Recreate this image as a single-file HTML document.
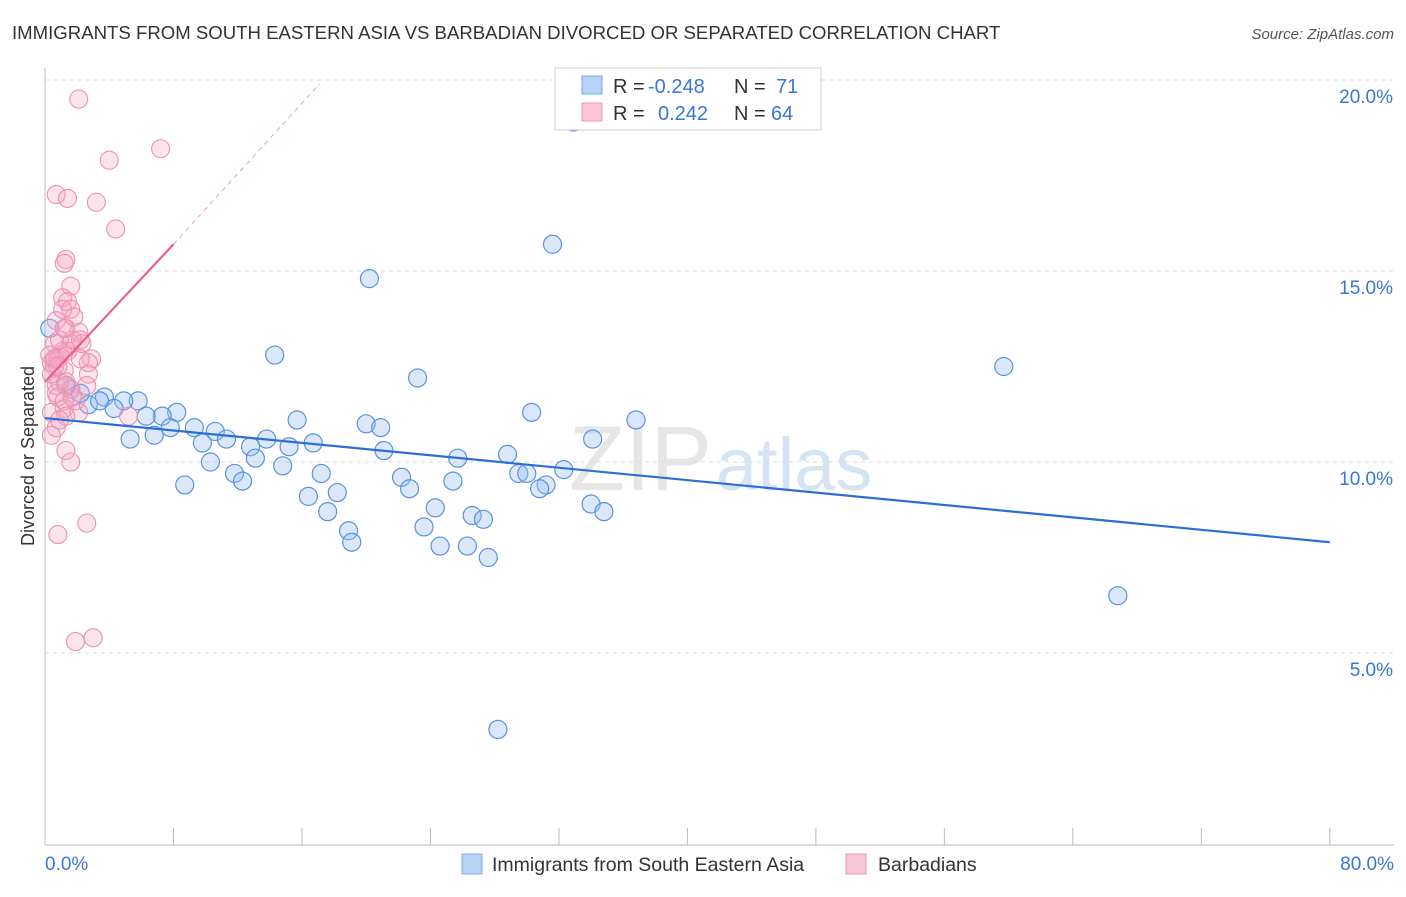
<!DOCTYPE html>
<html><head><meta charset="utf-8"><style>
body{margin:0;background:#fff;font-family:"Liberation Sans",sans-serif;}
svg text{font-family:"Liberation Sans",sans-serif;}
</style></head><body>
<svg id="c" width="1406" height="892">
<text x="12" y="39" font-size="18.6" fill="#333">IMMIGRANTS FROM SOUTH EASTERN ASIA VS BARBADIAN DIVORCED OR SEPARATED CORRELATION CHART</text>
<text x="1394" y="39" font-size="15" fill="#555" font-style="italic" text-anchor="end">Source: ZipAtlas.com</text>
<text x="712" y="490" font-size="92" fill="#e6e6e6" text-anchor="end" font-family="Liberation Serif">ZIP</text>
<text x="716" y="490" font-size="74" fill="#d6e3f5">atlas</text>
<g id="grid"></g><g id="pts"></g><g id="lines"></g>
<text transform="translate(34,456) rotate(-90)" font-size="18" fill="#333" text-anchor="middle">Divorced or Separated</text>
<text x="45" y="870" font-size="19" fill="#3a76d8">0.0%</text>
<text x="1394" y="870" font-size="19" fill="#3a76d8" text-anchor="end">80.0%</text>
<g>
<rect x="555" y="68" width="266" height="62" fill="#fff" stroke="#ccc"/>
<rect x="582" y="76" width="20" height="18" fill="#b8d2f5" stroke="#7aa6e6"/>
<rect x="582" y="103" width="20" height="18" fill="#f9c6d6" stroke="#ec9ab5"/>
<text x="613" y="93" font-size="20" fill="#333">R = <tspan x="648" fill="#3a76d8">-0.248</tspan><tspan x="734">N = </tspan><tspan x="776" fill="#3a76d8">71</tspan></text>
<text x="613" y="120" font-size="20" fill="#333">R = <tspan x="658" fill="#3a76d8">0.242</tspan><tspan x="734">N = </tspan><tspan x="771" fill="#3a76d8">64</tspan></text>
</g>
<g>
<rect x="462" y="854" width="20" height="20" fill="#b8d2f5" stroke="#7aa6e6"/>
<text x="492" y="871" font-size="19.5" fill="#333">Immigrants from South Eastern Asia</text>
<rect x="846" y="854" width="20" height="20" fill="#f9c6d6" stroke="#ec9ab5"/>
<text x="878" y="871" font-size="19.5" fill="#333">Barbadians</text>
</g>
</svg>
<script>
const yTicks=[5,10,15,20];
const xTicks=[0,8,16,24,32,40,48,56,64,72,80];
const blueX=[32.9,31.6,20.2,14.3,59.7,23.2,30.3,36.8,15.7,20.0,20.9,34.1,5.8,3.7,4.9,4.3,2.7,8.2,7.3,6.3,9.3,7.8,10.6,11.3,5.3,6.8,9.8,13.8,12.8,15.2,16.7,21.1,25.7,28.8,13.1,10.3,14.8,11.8,17.2,12.3,22.2,22.7,29.5,30.0,32.3,8.7,25.4,31.2,30.8,18.2,16.4,24.3,34.0,34.8,17.6,26.6,27.3,23.6,18.9,19.1,24.6,26.3,27.6,66.8,28.2,0.3,0.6,1.6,2.2,1.3,3.4];
const blueY=[18.9,15.7,14.8,12.8,12.5,12.2,11.3,11.1,11.1,11.0,10.9,10.6,11.6,11.7,11.6,11.4,11.5,11.3,11.2,11.2,10.9,10.9,10.8,10.6,10.6,10.7,10.5,10.6,10.4,10.4,10.5,10.3,10.1,10.2,10.1,10.0,9.9,9.7,9.7,9.5,9.6,9.3,9.7,9.7,9.8,9.4,9.5,9.4,9.3,9.2,9.1,8.8,8.9,8.7,8.7,8.6,8.5,8.3,8.2,7.9,7.8,7.8,7.5,6.5,3.0,13.5,12.7,11.9,11.8,12.0,11.6];
const pinkX=[2.1,7.2,4.0,0.7,1.4,3.2,4.4,1.3,1.2,1.6,1.1,1.4,1.6,0.7,1.3,2.1,2.2,1.6,0.9,2.9,2.7,0.4,0.6,1.2,2.7,0.7,1.6,0.8,1.9,1.2,0.4,2.1,1.3,0.7,0.4,1.3,1.6,2.6,0.8,1.9,3.0,5.2,0.9,0.6,1.7,1.1,0.8,0.3,0.6,1.4,2.3,1.7,0.9,1.2,2.2,0.7,0.9,1.3,0.4,1.8,2.6,1.1,0.8,1.2];
const pinkY=[19.5,18.2,17.9,17.0,16.9,16.8,16.1,15.3,15.2,14.6,14.3,14.2,14.0,13.7,13.5,13.4,13.2,13.1,12.8,12.7,12.6,12.6,12.5,12.4,12.3,12.0,11.9,11.7,11.6,11.4,11.3,11.3,11.2,10.9,10.7,10.3,10.0,8.4,8.1,5.3,5.4,11.2,12.1,13.1,11.7,12.9,12.7,12.8,12.7,12.9,13.1,13.2,13.2,13.5,12.7,11.8,11.1,12.1,12.3,13.8,12.0,14.0,12.5,11.6];
const blueTrend=[[0,11.15],[80,7.9]];
const pinkTrend=[[0,12.1],[8,15.7]];
const pinkTrendExt=[[8,15.7],[17.1,19.9]];
const X=v=>45+v*16.06, Y=v=>844-v*38.2;
const NS='http://www.w3.org/2000/svg';
function mk(t,a,p){const e=document.createElementNS(NS,t);for(const k in a)e.setAttribute(k,a[k]);p.appendChild(e);return e;}
const g=document.getElementById('grid');
let ax=mk('line',{x1:45,y1:68,x2:45,y2:845,stroke:'#bbb'},g);


let bx=mk('line',{x1:45,y1:845,x2:1394,y2:845,stroke:'#bbb'},g);


yTicks.forEach(t=>{
 const l=mk('line',{x1:45,x2:1394,y1:Y(t),y2:Y(t),stroke:'#ddd','stroke-dasharray':'4,4'},g);
 
 
 const tx=mk('text',{x:1393,y:Y(t)+23,'font-size':19,fill:'#3a76d8','text-anchor':'end'},g);
 tx.textContent=t.toFixed(1)+'%';
 
 
});
xTicks.forEach(t=>{
 const l=mk('line',{x1:X(t),x2:X(t),y1:828,y2:845,stroke:'#bbb'},g);
 
 
});
const P=document.getElementById('pts');
blueX.forEach((v,i)=>{
 const c=mk('circle',{cx:X(v),cy:Y(blueY[i]),r:9,fill:'rgba(150,190,240,0.35)',stroke:'#5b92de','stroke-width':1.2},P);
 
 
});
pinkX.forEach((v,i)=>{
 const c=mk('circle',{cx:X(v),cy:Y(pinkY[i]),r:9,fill:'rgba(245,165,195,0.3)',stroke:'#ec90b0','stroke-width':1.1},P);
 
 
});
const L=document.getElementById('lines');
let b=mk('line',{x1:X(blueTrend[0][0]),y1:Y(blueTrend[0][1]),x2:X(blueTrend[1][0]),y2:Y(blueTrend[1][1]),stroke:'#2a6fd6','stroke-width':2.2},L);


let p=mk('line',{x1:X(pinkTrend[0][0]),y1:Y(pinkTrend[0][1]),x2:X(pinkTrend[1][0]),y2:Y(pinkTrend[1][1]),stroke:'#e8608e','stroke-width':2.2},L);


let pd=mk('line',{x1:X(pinkTrendExt[0][0]),y1:Y(pinkTrendExt[0][1]),x2:X(pinkTrendExt[1][0]),y2:Y(pinkTrendExt[1][1]),stroke:'#f0a0bc','stroke-width':1,'stroke-dasharray':'5,4'},L);


</script>
</body></html>
